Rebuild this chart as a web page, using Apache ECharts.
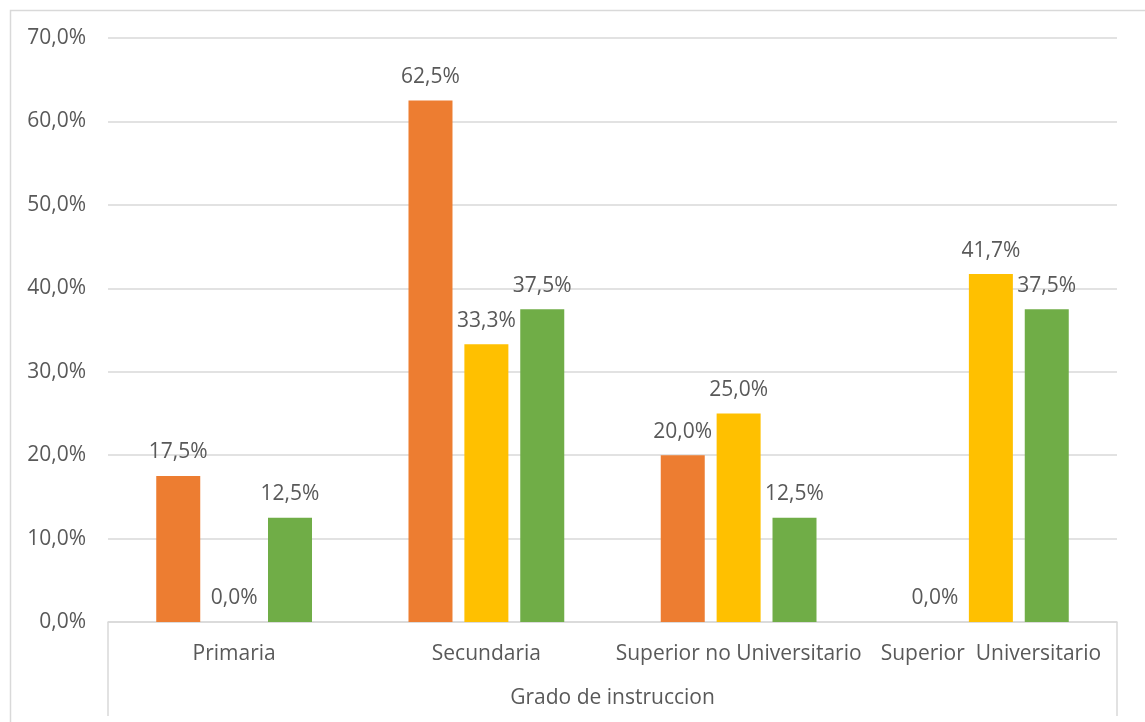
<!DOCTYPE html>
<html>
<head>
<meta charset="utf-8">
<script src="https://cdn.jsdelivr.net/npm/echarts@6/dist/echarts.min.js"></script>
<style>html,body{margin:0;padding:0;background:#fff;}#c{width:1145px;height:722px;}</style>
</head>
<body>
<div id="c"></div>
<script>
const categories = ['Primaria', 'Secundaria', 'Superior no Universitario', 'Superior  Universitario'];
const groupTitle = ['Grado de instruccion'];
const seriesA = [17.5, 62.5, 20.0, 0.0];
const seriesB = [0.0, 33.3, 25.0, 41.7];
const seriesC = [12.5, 37.5, 12.5, 37.5];
const yTicks = { min: 0, max: 70, interval: 10 };

const FONT = 'Open Sans';
const TXT = '#595959';
const FS = 21;
const fmt = v => v.toFixed(1).replace('.', ',') + '%';

function bar(name, data, color) {
  return {
    name: name, type: 'bar', data: data, barWidth: 44, barGap: '27%',
    itemStyle: { color: color },
    label: { show: true, position: 'top', distance: 13, color: TXT, fontFamily: FONT, fontSize: FS,
      formatter: p => fmt(p.value) }
  };
}

const chart = echarts.init(document.getElementById('c'));
chart.setOption({
  animation: false,
  backgroundColor: '#fff',
  graphic: [{ type: 'rect', left: 8, top: 8, shape: { width: 1160, height: 740 },
    style: { fill: 'none', stroke: '#d9d9d9', lineWidth: 1.5 }, silent: true, z: -1 }],
  grid: { left: 108, right: 28, top: 38, bottom: 100, containLabel: false },
  xAxis: [{
    type: 'category', position: 'bottom', data: categories,
    axisLine: { lineStyle: { color: '#d9d9d9', width: 1.5 } },
    axisTick: { show: false },
    axisLabel: { color: TXT, fontFamily: FONT, fontSize: FS, margin: 22, interval: 0 }
  }, {
    type: 'category', position: 'bottom', data: groupTitle,
    axisLine: { show: false },
    axisTick: { show: true, length: 94, lineStyle: { color: '#d9d9d9', width: 1.5 } },
    axisLabel: { color: TXT, fontFamily: FONT, fontSize: FS, margin: 66 }
  }],
  yAxis: {
    type: 'value', min: yTicks.min, max: yTicks.max, interval: yTicks.interval,
    axisLine: { show: false }, axisTick: { show: false },
    splitLine: { lineStyle: { color: '#d9d9d9', width: 1.5 } },
    axisLabel: { color: TXT, fontFamily: FONT, fontSize: FS, margin: 22, formatter: v => fmt(v) }
  },
  series: [
    bar('A', seriesA, '#ED7D31'),
    bar('B', seriesB, '#FFC000'),
    bar('C', seriesC, '#70AD47')
  ]
});
</script>
</body>
</html>
